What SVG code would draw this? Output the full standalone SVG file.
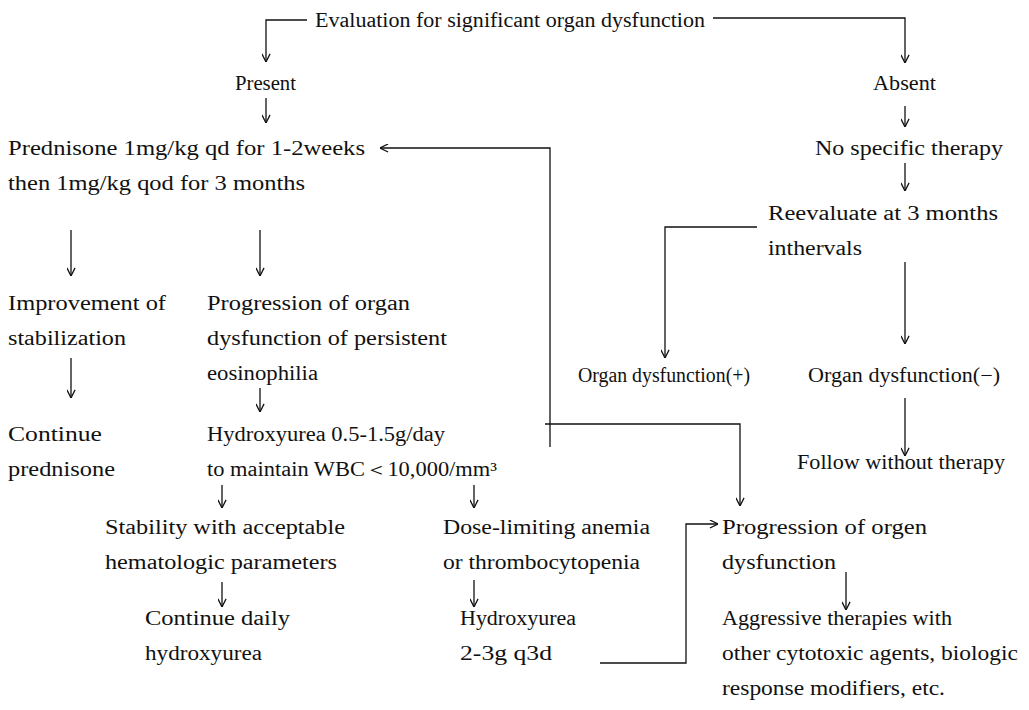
<svg xmlns="http://www.w3.org/2000/svg" width="1029" height="710" viewBox="0 0 1029 710">
<style>
text{font-family:"Liberation Serif","Times New Roman",serif;font-size:20px;fill:#111}
.c path{fill:none;stroke:#111;stroke-width:1.3;marker-end:url(#ah)}
</style>
<defs>
<marker id="ah" viewBox="0 0 10 10" refX="10" refY="5" markerWidth="9" markerHeight="9" markerUnits="userSpaceOnUse" orient="auto">
<path d="M1,0.5 L10,5 L1,9.5" fill="none" stroke="#111" stroke-width="1.4"/>
</marker>
</defs>
<rect width="1029" height="710" fill="#fff"/>
<g class="c" id="connectors">
<path d="M307,20 H266 V62"/>
<path d="M713,18 H905 V63"/>
<path d="M266,98 V123"/>
<path d="M905,106 V127"/>
<path d="M905,163 V191"/>
<path d="M550,447 V148 H380"/>
<path d="M757,227 H665 V358"/>
<path d="M905,262 V344"/>
<path d="M905,398 V456"/>
<path d="M71,230 V276"/>
<path d="M260,230 V276"/>
<path d="M71,358 V398"/>
<path d="M260,388 V412"/>
<path d="M545,424 H740 V506"/>
<path d="M222,485 V508"/>
<path d="M474,485 V508"/>
<path d="M222,582 V607"/>
<path d="M474,580 V607"/>
<path d="M600,663 H686 V524 H718"/>
<path d="M846,572 V610"/>
</g>
<g id="n-eval"><text x="315" y="27" textLength="390" lengthAdjust="spacingAndGlyphs">Evaluation for significant organ dysfunction</text></g>
<g id="n-present"><text x="235" y="90" textLength="61" lengthAdjust="spacingAndGlyphs">Present</text></g>
<g id="n-absent"><text x="873" y="90" textLength="63" lengthAdjust="spacingAndGlyphs">Absent</text></g>
<g id="n-prednisone">
<text x="8" y="155" textLength="357" lengthAdjust="spacingAndGlyphs">Prednisone 1mg/kg qd for 1-2weeks</text>
<text x="8" y="190" textLength="297" lengthAdjust="spacingAndGlyphs">then 1mg/kg qod for 3 months</text>
</g>
<g id="n-nospecific"><text x="815" y="155" textLength="188" lengthAdjust="spacingAndGlyphs">No specific therapy</text></g>
<g id="n-reeval">
<text x="768" y="220" textLength="230" lengthAdjust="spacingAndGlyphs">Reevaluate at 3 months</text>
<text x="768" y="255" textLength="94" lengthAdjust="spacingAndGlyphs">inthervals</text>
</g>
<g id="n-improve">
<text x="8" y="310" textLength="158" lengthAdjust="spacingAndGlyphs">Improvement of</text>
<text x="8" y="345" textLength="118" lengthAdjust="spacingAndGlyphs">stabilization</text>
</g>
<g id="n-progression">
<text x="207" y="310" textLength="203" lengthAdjust="spacingAndGlyphs">Progression of organ</text>
<text x="207" y="345" textLength="240" lengthAdjust="spacingAndGlyphs">dysfunction of persistent</text>
<text x="207" y="380" textLength="111" lengthAdjust="spacingAndGlyphs">eosinophilia</text>
</g>
<g id="n-odplus"><text x="578" y="382" textLength="172" lengthAdjust="spacingAndGlyphs">Organ dysfunction(+)</text></g>
<g id="n-odminus"><text x="808" y="382" textLength="192" lengthAdjust="spacingAndGlyphs">Organ dysfunction(−)</text></g>
<g id="n-continue">
<text x="8" y="441" textLength="94" lengthAdjust="spacingAndGlyphs">Continue</text>
<text x="8" y="476" textLength="107" lengthAdjust="spacingAndGlyphs">prednisone</text>
</g>
<g id="n-hydroxy1">
<text x="207" y="441" textLength="238" lengthAdjust="spacingAndGlyphs">Hydroxyurea 0.5-1.5g/day</text>
<text x="207" y="476" textLength="290" lengthAdjust="spacingAndGlyphs">to maintain WBC＜10,000/mm³</text>
</g>
<g id="n-follow"><text x="797" y="469" textLength="208" lengthAdjust="spacingAndGlyphs">Follow without therapy</text></g>
<g id="n-stability">
<text x="105" y="534" textLength="240" lengthAdjust="spacingAndGlyphs">Stability with acceptable</text>
<text x="105" y="569" textLength="232" lengthAdjust="spacingAndGlyphs">hematologic parameters</text>
</g>
<g id="n-dose">
<text x="443" y="534" textLength="207" lengthAdjust="spacingAndGlyphs">Dose-limiting anemia</text>
<text x="443" y="569" textLength="197" lengthAdjust="spacingAndGlyphs">or thrombocytopenia</text>
</g>
<g id="n-progorgen">
<text x="722" y="534" textLength="205" lengthAdjust="spacingAndGlyphs">Progression of orgen</text>
<text x="722" y="569" textLength="114" lengthAdjust="spacingAndGlyphs">dysfunction</text>
</g>
<g id="n-contdaily">
<text x="145" y="625" textLength="145" lengthAdjust="spacingAndGlyphs">Continue daily</text>
<text x="145" y="660" textLength="117" lengthAdjust="spacingAndGlyphs">hydroxyurea</text>
</g>
<g id="n-hydroxy2">
<text x="460" y="625" textLength="116" lengthAdjust="spacingAndGlyphs">Hydroxyurea</text>
<text x="460" y="660" textLength="92" lengthAdjust="spacingAndGlyphs">2-3g q3d</text>
</g>
<g id="n-aggressive">
<text x="722" y="625" textLength="230" lengthAdjust="spacingAndGlyphs">Aggressive therapies with</text>
<text x="722" y="660" textLength="296" lengthAdjust="spacingAndGlyphs">other cytotoxic agents, biologic</text>
<text x="722" y="695" textLength="223" lengthAdjust="spacingAndGlyphs">response modifiers, etc.</text>
</g>
</svg>
